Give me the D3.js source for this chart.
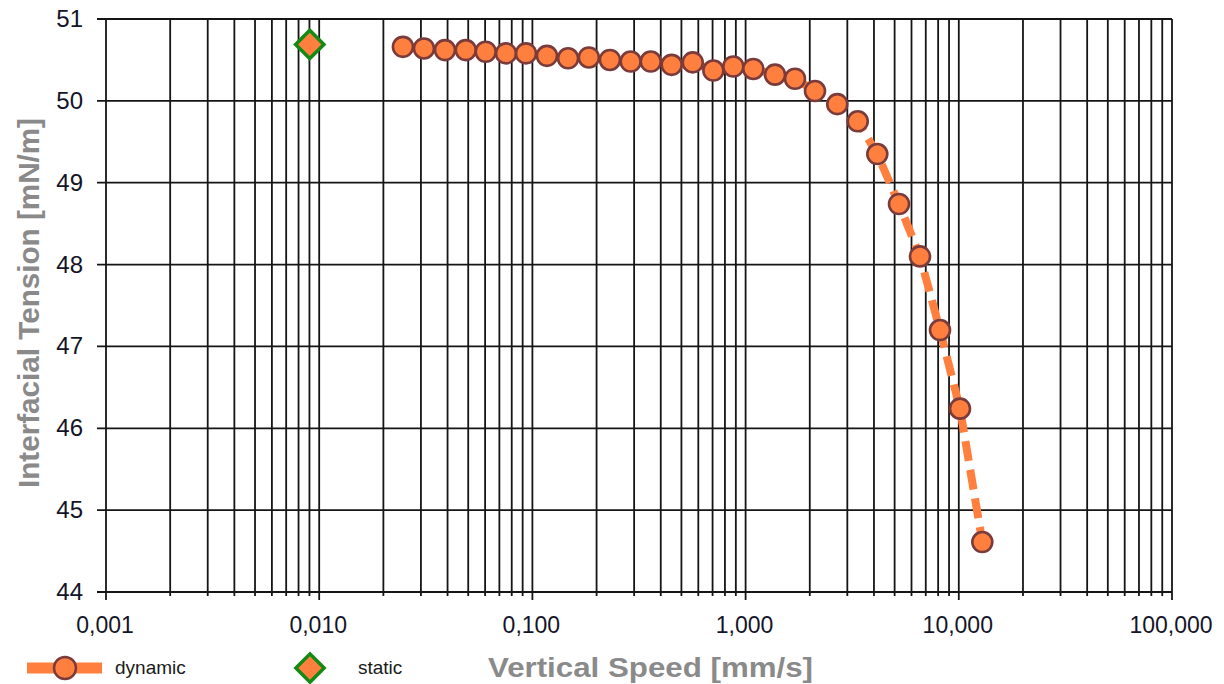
<!DOCTYPE html>
<html>
<head>
<meta charset="utf-8">
<script src="https://cdn.jsdelivr.net/npm/d3@7"></script>
<style>
  body { margin: 0; background: #fff; }
  svg { display: block; font-family: "Liberation Sans", Arial, sans-serif; }
</style>
</head>
<body>
<div id="chart"></div>
<script>
// dynamic series: vertical speed [mm/s] vs interfacial tension [mN/m]
const dynSpeed = [0.0247, 0.0310, 0.0389, 0.0487, 0.0604, 0.0752, 0.0933, 0.117, 0.147, 0.184,
    0.231, 0.289, 0.359, 0.450, 0.565, 0.706, 0.876, 1.087, 1.374, 1.705,
    2.116, 2.692, 3.357, 4.147, 5.243, 6.577, 8.162, 10.13, 12.89];
const dynTension = [50.66, 50.64, 50.62, 50.62, 50.60, 50.58, 50.58, 50.55, 50.52, 50.53,
    50.50, 50.48, 50.48, 50.44, 50.47, 50.37, 50.42, 50.39, 50.32, 50.27,
    50.12, 49.96, 49.75, 49.35, 48.74, 48.10, 47.20, 46.24, 44.61];

// static point
const staticSpeed = [0.00903];
const staticTension = [50.69];

const xTickValues = [0.001, 0.01, 0.1, 1, 10, 100];
const xTickLabels = ['0,001', '0,010', '0,100', '1,000', '10,000', '100,000'];
const yTickValues = [44, 45, 46, 47, 48, 49, 50, 51];

const chartWidth = 1224;
const chartHeight = 684;
const plotLeft = 106, plotRight = 1172, plotTop = 19, plotBottom = 592;

const orange = '#ff7f3f';
const brown = '#7b3b3b';
const green = '#138a13';
const gridColor = '#151515';

const x = d3.scaleLog().domain([0.001, 100]).range([plotLeft, plotRight]);
const y = d3.scaleLinear().domain([44, 51]).range([plotBottom, plotTop]);

const svg = d3.select('#chart')
    .append('svg')
    .attr('width', chartWidth)
    .attr('height', chartHeight);

// minor + major vertical gridlines
const vLines = [];
for (let e = -3; e < 2; e++) {
    for (let m = 1; m < 10; m++) vLines.push(m * Math.pow(10, e));
}
vLines.push(100);

svg.append('g')
    .selectAll('line')
    .data(vLines)
    .enter()
    .append('line')
    .attr('x1', d => x(d))
    .attr('x2', d => x(d))
    .attr('y1', plotTop)
    .attr('y2', (d, i) => plotBottom + (i % 9 === 0 ? 8 : 4))
    .attr('stroke', gridColor)
    .attr('stroke-width', 1.8);

svg.append('g')
    .selectAll('line')
    .data(yTickValues)
    .enter()
    .append('line')
    .attr('x1', plotLeft - 9)
    .attr('x2', plotRight)
    .attr('y1', d => y(d))
    .attr('y2', d => y(d))
    .attr('stroke', gridColor)
    .attr('stroke-width', 1.8);

// tick labels
svg.append('g')
    .selectAll('text')
    .data(yTickValues)
    .enter()
    .append('text')
    .text(d => d)
    .attr('x', 83)
    .attr('y', d => y(d) + 8)
    .attr('text-anchor', 'end')
    .attr('font-size', 24)
    .attr('fill', '#141428');

svg.append('g')
    .selectAll('text')
    .data(xTickValues)
    .enter()
    .append('text')
    .text((d, i) => xTickLabels[i])
    .attr('x', d => x(d) - 1)
    .attr('y', 633)
    .attr('text-anchor', 'middle')
    .attr('font-size', 23)
    .attr('fill', '#141428');

// axis titles
svg.append('text')
    .text('Vertical Speed [mm/s]')
    .attr('x', 488)
    .attr('y', 677)
    .attr('font-size', 28)
    .attr('font-weight', 'bold')
    .attr('fill', '#8a8a8a')
    .attr('textLength', 325)
    .attr('lengthAdjust', 'spacingAndGlyphs');

svg.append('text')
    .text('Interfacial Tension [mN/m]')
    .attr('transform', 'translate(39,488) rotate(-90)')
    .attr('font-size', 30)
    .attr('font-weight', 'bold')
    .attr('fill', '#8a8a8a')
    .attr('textLength', 370)
    .attr('lengthAdjust', 'spacingAndGlyphs');

// dynamic line + markers
const line = d3.line()
    .x(d => x(d[0]))
    .y(d => y(d[1]));

const dynData = dynSpeed.map((s, i) => [s, dynTension[i]]);

svg.append('path')
    .datum(dynData)
    .attr('d', line)
    .attr('fill', 'none')
    .attr('stroke', orange)
    .attr('stroke-width', 8)
    .attr('stroke-dasharray', '20,9');

svg.append('g')
    .selectAll('circle')
    .data(dynData)
    .enter()
    .append('circle')
    .attr('cx', d => x(d[0]))
    .attr('cy', d => y(d[1]))
    .attr('r', 10)
    .attr('fill', orange)
    .attr('stroke', brown)
    .attr('stroke-width', 2.6);

// static marker
const diamond = d3.symbol().type(d3.symbolSquare).size(400);

svg.append('g')
    .selectAll('path')
    .data(staticSpeed.map((s, i) => [s, staticTension[i]]))
    .enter()
    .append('path')
    .attr('d', diamond)
    .attr('transform', d => `translate(${x(d[0])},${y(d[1])}) rotate(45)`)
    .attr('fill', orange)
    .attr('stroke', green)
    .attr('stroke-width', 3.5);

// legend
const legend = svg.append('g');
legend.append('line')
    .attr('x1', 27).attr('x2', 102)
    .attr('y1', 668).attr('y2', 668)
    .attr('stroke', orange)
    .attr('stroke-width', 11);
legend.append('circle')
    .attr('cx', 65).attr('cy', 668).attr('r', 11)
    .attr('fill', orange)
    .attr('stroke', brown)
    .attr('stroke-width', 2.5);
legend.append('text')
    .text('dynamic')
    .attr('x', 115).attr('y', 674)
    .attr('font-size', 19)
    .attr('fill', '#1a1a1a');
legend.append('path')
    .attr('d', diamond)
    .attr('transform', 'translate(310,668) rotate(45)')
    .attr('fill', orange)
    .attr('stroke', green)
    .attr('stroke-width', 3.5);
legend.append('text')
    .text('static')
    .attr('x', 358).attr('y', 674)
    .attr('font-size', 19)
    .attr('fill', '#1a1a1a');
</script>
</body>
</html>
